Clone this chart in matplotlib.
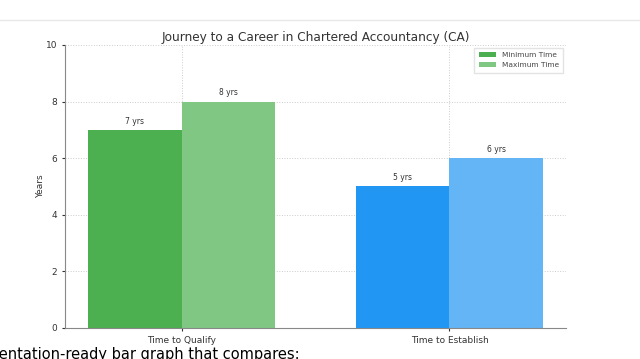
import matplotlib
matplotlib.use("Agg")
import matplotlib.pyplot as plt
import numpy as np

categories = ["Time to Qualify", "Time to Establish"]
min_time = [7, 5]
max_time = [8, 6]
min_colors = ["#4CAF50", "#2196F3"]
max_colors = ["#81C784", "#64B5F6"]

fig = plt.figure(figsize=(6.4, 3.59), dpi=100)
ax = fig.add_axes([0.1016, 0.0864, 0.7828, 0.7883])

x = np.arange(len(categories))
w = 0.35
b1 = ax.bar(x - w/2, min_time, w, color=min_colors, label="Minimum Time", zorder=2)
b2 = ax.bar(x + w/2, max_time, w, color=max_colors, label="Maximum Time", zorder=2)

for bars, vals in ((b1, min_time), (b2, max_time)):
    for r, v in zip(bars, vals):
        ax.text(r.get_x() + r.get_width()/2, v + 0.15, f"{v} yrs",
                ha="center", va="bottom", fontsize=5.5, color="#333333")

ax.set_ylim(0, 10)
ax.set_yticks([0, 2, 4, 6, 8, 10])
ax.set_xticks(x)
ax.set_xticklabels(categories)
ax.tick_params(labelsize=6.5, colors="#333333", length=2)
ax.set_ylabel("Years", fontsize=6.5, color="#333333", labelpad=0.5)
ax.set_title("Journey to a Career in Chartered Accountancy (CA)", fontsize=8.7, color="#333333", pad=3)
ax.grid(True, linestyle=":", color="#cccccc", linewidth=0.7, zorder=0)
ax.set_axisbelow(True)
for s in ("top", "right"):
    ax.spines[s].set_visible(False)
for s in ("left", "bottom"):
    ax.spines[s].set_color("#888888")
    ax.spines[s].set_linewidth(0.8)

leg = ax.legend(fontsize=5.3, loc="upper right", frameon=True, fancybox=False,
                edgecolor="#dddddd", handlelength=2.3, handleheight=0.65,
                borderpad=0.6, labelspacing=0.5, borderaxespad=0.4)
for t in leg.get_texts():
    t.set_color("#444444")

fig.add_artist(plt.Line2D([0, 1], [1 - 20/359, 1 - 20/359], color="#e8e8e8", linewidth=1))
fig.text(-0.051, -0.008, "presentation-ready bar graph that compares:", fontsize=10.5, color="black",
         ha="left", va="bottom")

fig.savefig("out.png", dpi=100)
